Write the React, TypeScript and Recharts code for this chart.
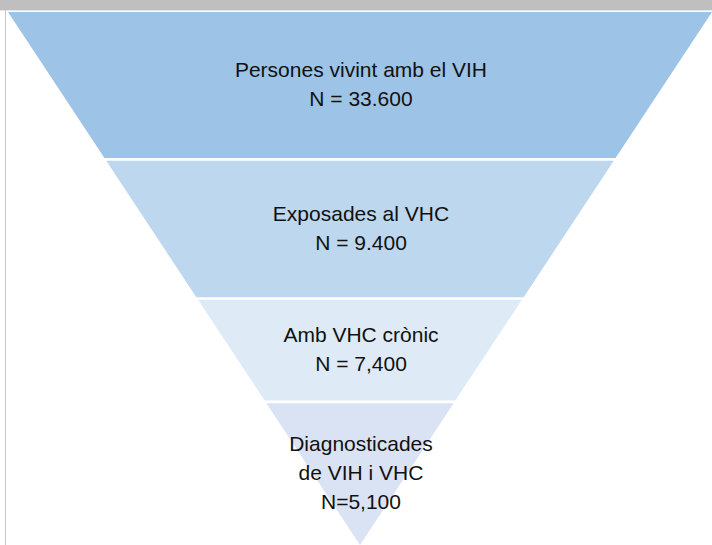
import React from "react";
import { ComposedChart, Area, XAxis, YAxis, ReferenceDot } from "recharts";

// one entry per funnel band, top to bottom
const stageNames = [
  ["Persones vivint amb el VIH"],
  ["Exposades al VHC"],
  ["Amb VHC crònic"],
  ["Diagnosticades", "de VIH i VHC"],
];
const stageCounts = ["N = 33.600", "N = 9.400", "N = 7,400", "N=5,100"];
// depth of each band: 0 = wide top of the funnel, 100 = its tip
const bandTop = [0, 27.9, 54.0, 73.4];
const bandBottom = [27.4, 53.5, 72.9, 100];
const bandColors = ["#9DC3E6", "#BDD7EE", "#DEEBF7", "#DAE3F3"];

// the funnel is an inverted triangle: half width shrinks with depth
const row = (depth: number) => ({ depth, span: [depth - 100, 100 - depth] });

const bands = bandTop.map((top, i) => ({
  data: [row(top), row(bandBottom[i])],
  mid: (top + bandBottom[i]) / 2,
  lines: [...stageNames[i], stageCounts[i]],
  color: bandColors[i],
}));

const StageLabel = ({ viewBox, lines }: any) => {
  if (!viewBox) return null;
  const cx = viewBox.x + viewBox.width / 2 + 1;
  const cy = viewBox.y + viewBox.height / 2 - 1;
  const lh = 29;
  return (
    <text
      x={cx}
      y={cy}
      textAnchor="middle"
      fontFamily="'Liberation Sans', Arial, sans-serif"
      fontSize={21}
      fill="#111"
    >
      {lines.map((l: string, i: number) => (
        <tspan key={i} x={cx} y={cy + (i - (lines.length - 1) / 2) * lh} dy="0.35em">
          {l}
        </tspan>
      ))}
    </text>
  );
};

export default function App() {
  return (
    <div
      style={{
        position: "absolute",
        top: 0,
        left: 0,
        width: 712,
        height: 545,
        background: "#fff",
        overflow: "hidden",
      }}
    >
      <div style={{ position: "absolute", top: 0, left: 0, width: 712, height: 10, background: "#BFBFBF" }} />
      <div style={{ position: "absolute", top: 10, left: 0, width: 712, height: 1, background: "#E4E4E4" }} />
      <div style={{ position: "absolute", top: 10, left: 5, width: 1, height: 535, background: "#C8C8C8" }} />
      <div style={{ position: "absolute", top: 0, left: 0 }}>
        <ComposedChart
          width={712}
          height={545}
          layout="vertical"
          margin={{ top: 12, right: 0, left: 8, bottom: 0 }}
        >
          <XAxis type="number" domain={[-100, 100]} hide />
          <YAxis type="number" dataKey="depth" domain={[0, 100]} hide />
          {bands.map((b, i) => (
            <Area
              key={i}
              data={b.data}
              dataKey="span"
              type="linear"
              fill={b.color}
              fillOpacity={1}
              stroke="none"
              dot={false}
              activeDot={false}
              isAnimationActive={false}
            />
          ))}
          {bands.map((b, i) => (
            <ReferenceDot
              key={`l${i}`}
              x={0}
              y={b.mid}
              r={1}
              fill="none"
              stroke="none"
              label={{ content: (p: any) => <StageLabel viewBox={p.viewBox} lines={b.lines} /> }}
            />
          ))}
        </ComposedChart>
      </div>
    </div>
  );
}
